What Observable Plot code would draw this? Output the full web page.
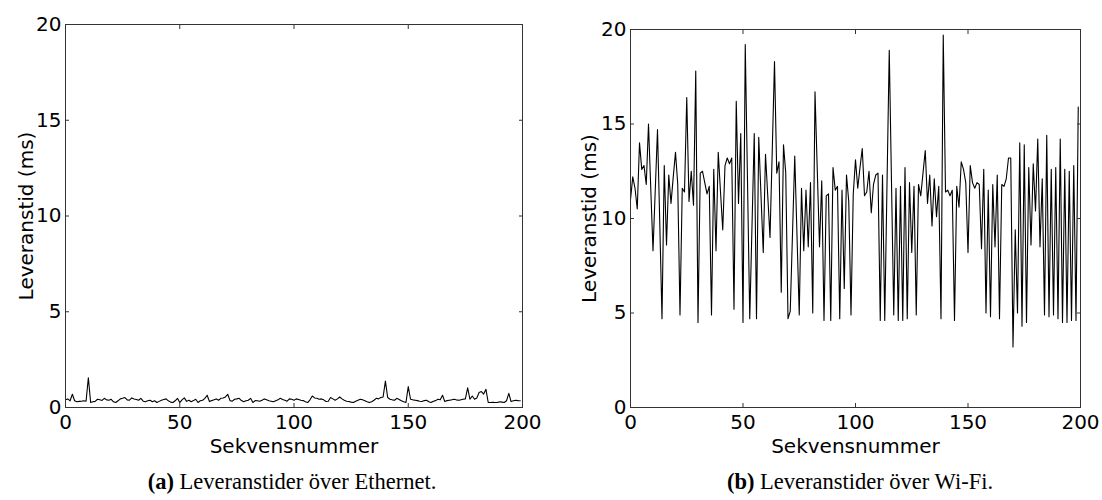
<!DOCTYPE html>
<html><head><meta charset="utf-8">
<script src="https://cdn.jsdelivr.net/npm/d3@7"></script>
<script src="https://cdn.jsdelivr.net/npm/@observablehq/plot@0.6"></script>
<style>
body{margin:0;background:#fff;width:1102px;height:500px;position:relative;overflow:hidden}
.panel{position:absolute;top:0}
.cap{position:absolute;top:470px;width:600px;text-align:center;font-family:"Liberation Serif",serif;font-size:22.5px;line-height:24px;color:#000;white-space:nowrap}
</style></head><body>
<div id="a" class="panel" style="left:0"></div>
<div id="b" class="panel" style="left:551px"></div>
<div class="cap" style="left:-8px"><b>(a)</b> Leveranstider över Ethernet.</div>
<div class="cap" style="left:560px"><b>(b)</b> Leveranstider över Wi-Fi.</div>
<script>
const xTicks = [0, 50, 100, 150, 200];
const yTicks = [0, 5, 10, 15, 20];
const xLabel = "Sekvensnummer";
const yLabel = "Leveranstid (ms)";

const ethernet = [
0.4,0.45,0.35,0.69,0.35,0.3,0.32,0.33,0.35,0.33,
1.55,0.26,0.3,0.32,0.43,0.4,0.37,0.48,0.4,0.38,
0.43,0.3,0.26,0.35,0.45,0.48,0.52,0.4,0.38,0.5,
0.44,0.42,0.38,0.48,0.33,0.3,0.35,0.38,0.3,0.35,
0.26,0.32,0.38,0.42,0.45,0.35,0.28,0.26,0.35,0.48,
0.26,0.4,0.5,0.32,0.38,0.3,0.36,0.43,0.26,0.35,
0.38,0.48,0.64,0.31,0.36,0.4,0.45,0.38,0.48,0.5,
0.55,0.69,0.36,0.33,0.43,0.45,0.48,0.36,0.3,0.35,
0.38,0.48,0.26,0.36,0.35,0.33,0.38,0.45,0.4,0.35,
0.33,0.3,0.35,0.4,0.48,0.42,0.38,0.33,0.45,0.43,
0.38,0.45,0.42,0.38,0.36,0.3,0.26,0.4,0.6,0.5,
0.48,0.43,0.45,0.4,0.31,0.33,0.52,0.45,0.38,0.45,
0.55,0.45,0.38,0.33,0.31,0.28,0.26,0.33,0.38,0.43,
0.4,0.35,0.3,0.26,0.3,0.38,0.48,0.45,0.52,0.55,
1.38,0.52,0.43,0.4,0.38,0.48,0.42,0.35,0.3,0.26,
1.09,0.43,0.4,0.38,0.36,0.33,0.31,0.36,0.38,0.3,
0.26,0.33,0.36,0.43,0.4,0.64,0.31,0.36,0.38,0.4,
0.43,0.4,0.38,0.4,0.43,0.45,1.03,0.43,0.6,0.43,
0.5,0.78,0.83,0.7,0.95,0.26,0.26,0.27,0.26,0.26,
0.3,0.28,0.26,0.35,0.74,0.31,0.35,0.38,0.36,0.35
];

const wifi = [
11.0,12.2,11.6,10.5,14.0,12.6,12.8,11.8,15.0,11.6,
8.3,11.5,14.7,9.8,4.7,12.8,8.6,12.3,10.8,12.2,
13.5,11.8,4.9,11.6,11.4,16.4,10.9,12.5,10.7,17.8,
4.5,12.4,12.5,11.9,11.3,11.7,4.9,12.6,8.3,13.5,
11.4,9.4,12.8,13.2,12.9,13.2,5.2,16.2,10.8,14.5,
4.5,19.2,12.0,4.7,9.6,14.5,4.7,14.3,11.2,8.2,
13.4,11.2,9.0,13.6,18.3,12.4,13.0,6.1,13.9,12.4,
4.7,5.1,9.2,13.3,9.1,4.9,11.6,8.3,11.5,8.5,
11.9,5.0,16.7,12.6,8.5,12.0,4.6,11.2,11.3,4.6,
12.7,11.5,11.7,4.7,11.5,6.3,12.3,10.9,4.9,11.3,
13.1,11.6,12.7,13.7,11.2,11.4,12.5,10.3,11.8,12.3,
12.4,4.6,12.3,4.6,11.8,18.9,11.9,4.9,11.6,4.6,
11.7,4.6,12.7,4.7,11.9,8.2,11.7,4.9,11.8,11.2,
12.4,13.6,10.8,12.3,9.6,12.1,10.1,11.7,4.7,19.7,
11.4,11.5,11.2,11.5,4.6,11.7,10.6,13.0,12.6,11.9,
8.2,12.8,11.9,11.6,11.9,11.8,8.4,12.6,5.0,11.5,
4.8,11.8,8.5,12.3,4.7,11.8,11.7,12.1,13.2,13.2,
3.2,9.4,5.0,14.0,4.3,13.9,4.5,12.7,8.6,12.9,
10.4,14.2,8.5,12.1,4.9,14.4,4.8,12.6,4.9,12.7,
4.7,14.2,4.5,12.6,4.5,12.5,4.6,12.8,4.6,15.9
];

function panel(values, o) {
  return Plot.plot({
    width: 551, height: 470,
    marginLeft: o.marginLeft, marginRight: o.marginRight, marginTop: o.marginTop, marginBottom: 63,
    style: {fontFamily: "'DejaVu Sans', sans-serif", fontSize: "20px", color: "#000", background: "transparent", overflow: "visible"},
    x: {domain: [0, 200]},
    y: {domain: [0, 20]},
    marks: [
      Plot.lineY(values, {stroke: "#000", strokeWidth: 1.1}),
      Plot.frame({stroke: "#333"}),
      Plot.axisX(xTicks, {anchor: "bottom", tickSize: -4, tickPadding: 11, stroke: "#333", label: xLabel, labelAnchor: "center", labelArrow: "none", labelOffset: 45}),
      Plot.axisX(xTicks, {anchor: "top", tickSize: -4, fill: "none", stroke: "#333", label: null}),
      Plot.axisY(yTicks, {anchor: "left", tickSize: -4, tickPadding: 8, stroke: "#333", label: yLabel, labelAnchor: "center", labelArrow: "none", labelOffset: o.labelOffset}),
      Plot.axisY(yTicks, {anchor: "right", tickSize: -4, fill: "none", stroke: "#333", label: null})
    ]
  });
}

document.getElementById("a").append(panel(ethernet, {marginLeft: 65, marginRight: 29, marginTop: 24, labelOffset: 47}));
document.getElementById("b").append(panel(wifi, {marginLeft: 79, marginRight: 22, marginTop: 29, labelOffset: 49}));
</script>
</body></html>
